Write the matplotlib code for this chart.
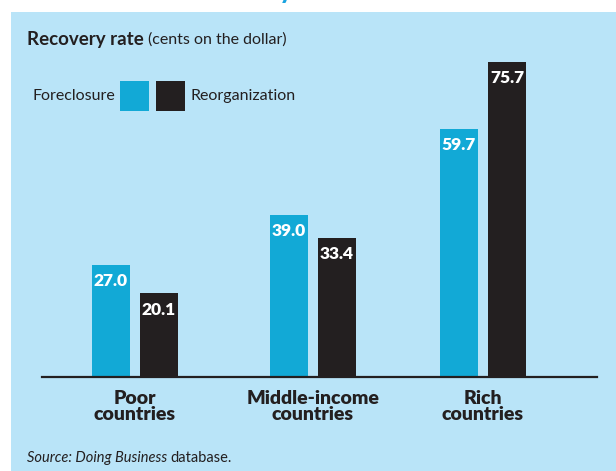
import numpy as np
import matplotlib.pyplot as plt
from matplotlib.patches import Rectangle

plt.rcParams['font.family'] = ['Lato', 'DejaVu Sans']

categories = ['Poor\ncountries', 'Middle-income\ncountries', 'Rich\ncountries']
foreclosure = [27.0, 39.0, 59.7]
reorganization = [20.1, 33.4, 75.7]
series_names = ['Foreclosure', 'Reorganization']

BLUE = '#12a9d6'
BLACK = '#231f20'
PANEL = '#b9e4f8'

W, H = 616, 471
fig = plt.figure(figsize=(W / 100, H / 100), dpi=100, facecolor='white')
renderer = fig.canvas.get_renderer()


def text_after(prev, gap_px, s, **kw):
    """Place a text right after another one on the same line."""
    bb = prev.get_window_extent(renderer)
    x0, y0 = prev.get_position()
    return fig.text((bb.x1 + gap_px) / W, y0, s, va=prev.get_va(), ha='left', **kw)


# light blue panel behind everything
fig.patches.append(Rectangle((11 / W, 0), 1 - 11 / W, 1 - 12 / H,
                             transform=fig.transFigure, facecolor=PANEL,
                             edgecolor='none', zorder=-5))

# descender of the headline sitting above the panel
fig.text(286 / W, 1 + 2 / H, 'y', color='#1aa3e0', fontsize=20,
         fontweight='bold', ha='center', va='baseline')

# axes: baseline at y=377px, x axis line from 42px to 597px
ax_left, ax_right = 42, 597
ax_bottom, ax_top = 377, 62
ax = fig.add_axes([ax_left / W, 1 - ax_bottom / H,
                   (ax_right - ax_left) / W, (ax_bottom - ax_top) / H])
ax.set_facecolor('none')

spacing = 174.0
centers = np.array([135, 313, 483])
x = (centers - centers[0]) / spacing
bw = 38 / spacing
off = 24 / spacing

b1 = ax.bar(x - off, foreclosure, bw, color=BLUE, zorder=2)
b2 = ax.bar(x + off, reorganization, bw, color=BLACK, zorder=2)

for bars, vals in ((b1, foreclosure), (b2, reorganization)):
    for rect, v in zip(bars, vals):
        ax.text(rect.get_x() + rect.get_width() / 2, v - 2.0, f'{v:.1f}',
                ha='center', va='top', color='white', fontsize=12.5,
                fontweight='heavy')

ax.set_xlim((ax_left - centers[0]) / spacing, (ax_right - centers[0]) / spacing)
ax.set_ylim(0, (ax_bottom - ax_top) / 4.16)

for s in ('top', 'right', 'left'):
    ax.spines[s].set_visible(False)
ax.spines['bottom'].set_color(BLACK)
ax.spines['bottom'].set_linewidth(1.6)
ax.set_yticks([])
ax.set_xticks(x)
ax.set_xticklabels(categories, fontsize=14, fontweight='heavy', color=BLACK,
                   linespacing=0.95)
ax.tick_params(axis='x', length=0, pad=9)

# title
t1 = fig.text(27 / W, 1 - 40 / H, 'Recovery rate', fontsize=13.5,
              fontweight='bold', color=BLACK, va='center', ha='left')
text_after(t1, 4, '(cents on the dollar)', fontsize=11.5, color=BLACK)

# legend drawn by hand
fig.text(32 / W, 1 - 96 / H, series_names[0], fontsize=11.5, color=BLACK,
         va='center', ha='left')
fig.patches.append(Rectangle((120 / W, 1 - 111 / H), 29 / W, 30 / H,
                             transform=fig.transFigure, facecolor=BLUE,
                             edgecolor='none'))
fig.patches.append(Rectangle((156 / W, 1 - 111 / H), 29 / W, 30 / H,
                             transform=fig.transFigure, facecolor=BLACK,
                             edgecolor='none'))
fig.text(191 / W, 1 - 96 / H, series_names[1], fontsize=11.5, color=BLACK,
         va='center', ha='left')

# source note
s1 = fig.text(27 / W, 1 - 458 / H, 'Source: Doing Business', fontsize=10.5,
              style='italic', color=BLACK, va='center', ha='left')
text_after(s1, 3, 'database.', fontsize=10.5, color=BLACK)

fig.savefig('out.png', dpi=100, facecolor=fig.get_facecolor())
